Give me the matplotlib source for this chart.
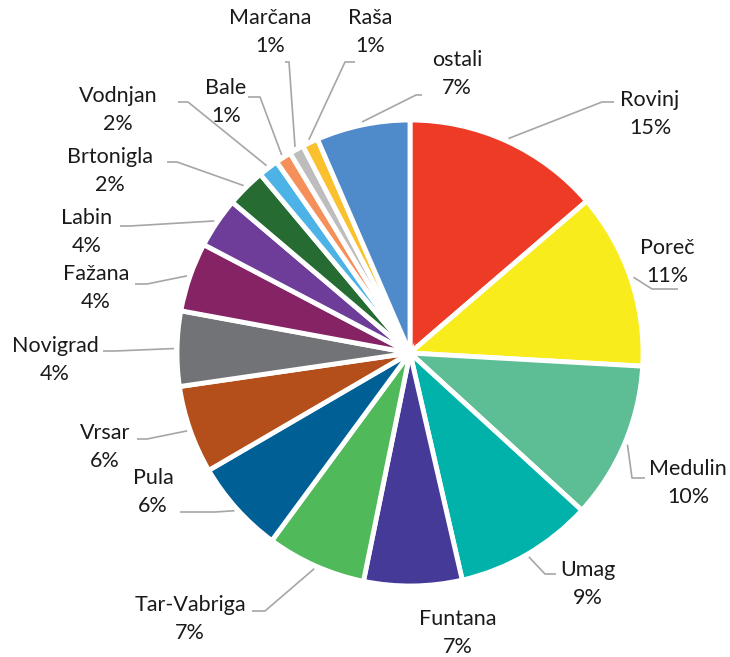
import numpy as np
from matplotlib import pyplot as plt

# towns, share of the pie as drawn, and the printed percentages
towns = ['Rovinj', 'Poreč', 'Medulin', 'Umag', 'Funtana', 'Tar-Vabriga', 'Pula',
         'Vrsar', 'Novigrad', 'Fažana', 'Labin', 'Brtonigla', 'Vodnjan', 'Bale',
         'Marčana', 'Raša', 'ostali']
shares = [13.7, 12.2, 10.9, 9.6, 6.8, 6.9, 6.5, 6.1, 5.2, 4.8, 3.5, 2.7, 1.4, 1.1,
          1.0, 1.1, 6.5]
pct_text = ['15%', '11%', '10%', '9%', '7%', '7%', '6%', '6%', '4%', '4%', '4%',
            '2%', '2%', '1%', '1%', '1%', '7%']

colors = ['#EE3B26', '#F8EC1C', '#5DBE96', '#00B2AA', '#453A97', '#50B95A',
          '#006095', '#B44E1B', '#727376', '#862364', '#6E3D99', '#256B32',
          '#4DB3E6', '#F5905A', '#BDBDBD', '#FBC02D', '#4F8BCB']

H = 657
cx, cy, R = 410, 353, 233

# label block centres (pixel coords, y from top)
label_pos = [(650, 114), (667, 262), (688, 483), (588, 584), (458, 633),
             (190, 619), (153, 492), (105, 447), (55, 360), (96, 288),
             (87, 232), (110, 171), (118, 110), (226, 102), (270, 32),
             (370, 32), (457, 74)]
# leader line: elbow and end points near the label (None = no leader)
leader = [((602, 102), (614, 102)), ((652, 289), (678, 289)),
          ((632, 478), (645, 478)), ((545, 574), (556, 574)), None,
          ((265, 611), (252, 611)), ((215, 512), (180, 512)),
          ((147, 439), (137, 439)), ((115, 351), (103, 351)),
          ((147, 284), (135, 284)), ((130, 226), (120, 226)),
          ((177, 162), (167, 162)), ((188, 102), (178, 102)),
          ((260, 97), (248, 97)), ((289, 62), (285, 62)),
          ((345, 62), (355, 62)), ((416, 95), (422, 95))]

fig = plt.figure(figsize=(7.3, 6.57), dpi=100)
ax = fig.add_axes([0, 0, 1, 1])

wedges, _ = ax.pie(shares, colors=colors, startangle=90, counterclock=False,
                   center=(cx, H - cy), radius=R,
                   wedgeprops=dict(edgecolor='white', linewidth=3.5))

for i, w in enumerate(wedges):
    lx, ly = label_pos[i]
    ax.text(lx, H - ly, towns[i] + '\n' + pct_text[i], ha='center', va='center',
            fontsize=15.5, family=['Lato', 'DejaVu Sans'], color='#1a1a1a',
            linespacing=1.55)
    if leader[i] is None:
        continue
    mid = np.deg2rad((w.theta1 + w.theta2) / 2)
    sx = cx + (R + 3) * np.cos(mid)
    sy = (H - cy) + (R + 3) * np.sin(mid)
    (ex, ey), (fx, fy) = leader[i]
    ax.plot([sx, ex, fx], [sy, H - ey, H - fy], color='#A6A6A6', lw=1.2,
            solid_capstyle='butt')

ax.set_xlim(0, 730)
ax.set_ylim(0, H)
ax.set_aspect('equal')
ax.axis('off')
fig.savefig('out.png', dpi=100)
